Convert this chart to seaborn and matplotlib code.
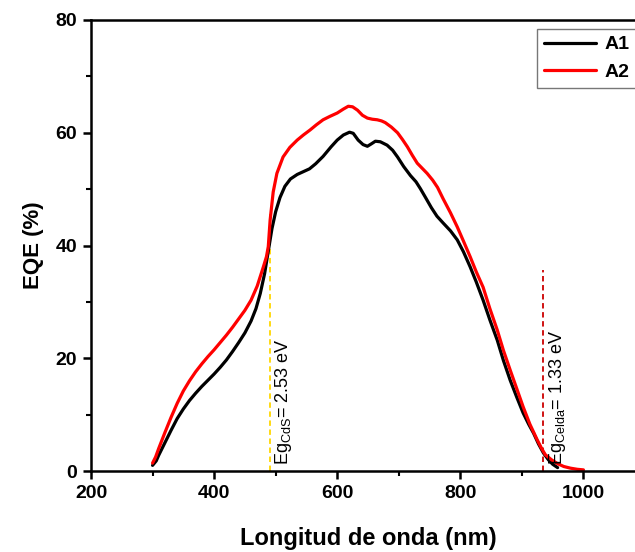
import matplotlib
matplotlib.use("Agg")
import matplotlib.pyplot as plt
import seaborn as sns
import pandas as pd
from matplotlib.ticker import MultipleLocator

# ---- data ----
a1_wl = [300, 306, 310, 320, 330, 340, 350, 360, 370, 380, 390, 400, 410, 420, 430, 440,
         450, 460, 468, 475, 482, 488, 494, 500, 507, 515, 524, 535, 545, 555, 565, 577,
         590, 600, 610, 620, 626, 634, 642, 649, 655, 662, 670, 681, 690, 698, 708, 719,
         728, 735, 743, 753, 762, 772, 784, 795, 805, 816, 826, 837, 848, 860, 870, 881,
         892, 902, 911, 919, 927, 935, 943, 950, 958]
a1_eqe = [1.0, 1.8, 2.8, 5.0, 7.2, 9.3, 11.0, 12.5, 13.8, 15.0, 16.1, 17.2, 18.4, 19.7,
          21.2, 22.8, 24.5, 26.6, 28.8, 31.5, 35.0, 39.0, 43.0, 46.0, 48.5, 50.5, 51.8,
          52.6, 53.1, 53.6, 54.5, 55.8, 57.5, 58.7, 59.6, 60.1, 59.9, 58.7, 57.9, 57.6,
          58.0, 58.5, 58.4, 57.8, 56.9, 55.7, 54.0, 52.4, 51.3, 50.1, 48.6, 46.7, 45.2,
          44.0, 42.6, 41.0, 38.9, 36.2, 33.5, 30.3, 26.8, 23.2, 19.6, 16.1, 13.0, 10.3,
          8.3, 6.7, 4.8, 3.2, 2.0, 1.2, 0.6]

a2_wl = [300, 305, 310, 320, 330, 340, 350, 360, 370, 380, 390, 400, 410, 420, 430, 440,
         450, 460, 470, 480, 485, 488, 491, 496, 502, 512, 523, 535, 545, 556, 566, 577,
         588, 600, 610, 618, 625, 633, 641, 649, 657, 665, 672, 678, 688, 698, 706, 714,
         722, 730, 738, 746, 755, 763, 772, 784, 795, 805, 816, 826, 837, 848, 860, 870,
         881, 892, 902, 913, 925, 932, 938, 948, 958, 968, 979, 990, 1000]
a2_eqe = [1.4, 2.5, 4.0, 6.8, 9.5, 12.0, 14.2, 16.0, 17.6, 19.0, 20.3, 21.5, 22.8, 24.1,
          25.5, 27.0, 28.5, 30.3, 32.8, 36.2, 38.0, 39.8, 44.5, 49.5, 52.8, 55.7, 57.4,
          58.7, 59.6, 60.5, 61.4, 62.3, 62.9, 63.5, 64.2, 64.7, 64.6, 64.0, 63.1, 62.6,
          62.4, 62.3, 62.1, 61.8, 61.0, 60.0, 58.8, 57.5, 56.0, 54.6, 53.7, 52.8, 51.6,
          50.3, 48.3, 45.8, 43.3, 40.8, 38.0, 35.3, 32.6, 28.8, 25.0, 21.4, 17.9, 14.5,
          11.4, 8.3, 5.5, 4.0, 2.9, 2.0, 1.3, 0.8, 0.5, 0.3, 0.2]

series_names = ["A1", "A2"]
series_colors = ["#000000", "#ff0000"]

eg_cds_nm = 490
eg_cds_top = 45.5
eg_celda_nm = 935
eg_celda_top = 35.6

df = pd.DataFrame({
    "wl": a1_wl + a2_wl,
    "eqe": a1_eqe + a2_eqe,
    "sample": ["A1"] * len(a1_wl) + ["A2"] * len(a2_wl),
})

sns.set_style("ticks")
plt.rcParams["font.family"] = ["Liberation Sans", "DejaVu Sans"]
plt.rcParams["mathtext.default"] = "regular"
for k in ["text.color", "axes.labelcolor", "xtick.color", "ytick.color", "axes.edgecolor"]:
    plt.rcParams[k] = "black"

fig = plt.figure(figsize=(6.35, 5.52), dpi=100)
ax = fig.add_axes([91 / 635, 81 / 552, (645 - 91) / 635, 451 / 552])

sns.lineplot(data=df, x="wl", y="eqe", hue="sample", hue_order=series_names,
             palette=series_colors, linewidth=2.3, ax=ax, sort=True, estimator=None)

ax.plot([eg_cds_nm, eg_cds_nm], [0, eg_cds_top], ls=(0, (3, 2)), color="#ffd700", lw=1.3, zorder=1)
ax.plot([eg_celda_nm, eg_celda_nm], [0, eg_celda_top], ls=(0, (3, 2)), color="#cc0000", lw=1.3, zorder=1)

ax.text(eg_cds_nm + 23, 1.0, r"Eg$_{CdS}$= 2.53 eV", rotation=90, ha="center", va="bottom",
        fontsize=13, color="black")
ax.text(eg_celda_nm + 23, 1.0, r"Eg$_{Celda}$= 1.33 eV", rotation=90, ha="center", va="bottom",
        fontsize=13, color="black")

ax.set_xlim(200, 1100)
ax.set_ylim(0, 80)
ax.xaxis.set_major_locator(MultipleLocator(200))
ax.xaxis.set_minor_locator(MultipleLocator(100))
ax.yaxis.set_major_locator(MultipleLocator(20))
ax.yaxis.set_minor_locator(MultipleLocator(10))

for s in ax.spines.values():
    s.set_linewidth(1.8)
    s.set_color("black")

ax.tick_params(which="major", direction="out", length=6, width=1.8, labelsize=14, pad=4,
               colors="black")
ax.tick_params(which="minor", direction="out", length=3.5, width=1.5, colors="black")
for lab in ax.get_xticklabels() + ax.get_yticklabels():
    lab.set_fontweight("bold")

ax.set_xlabel("Longitud de onda (nm)", fontsize=17, fontweight="bold", labelpad=18)
ax.set_ylabel("EQE (%)", fontsize=16, fontweight="bold", labelpad=8)

leg = ax.legend(loc="upper left", bbox_to_anchor=(537 / 635, 1 - 29 / 552),
                bbox_transform=fig.transFigure, frameon=True, fancybox=False,
                prop={"weight": "bold", "size": 14}, handlelength=2.7, handletextpad=0.4,
                borderaxespad=0, borderpad=0.35, labelspacing=0.5)
leg.get_frame().set_edgecolor("#555555")
leg.get_frame().set_linewidth(1.0)
for line in leg.get_lines():
    line.set_linewidth(2.3)

fig.savefig("out.png", dpi=100)
